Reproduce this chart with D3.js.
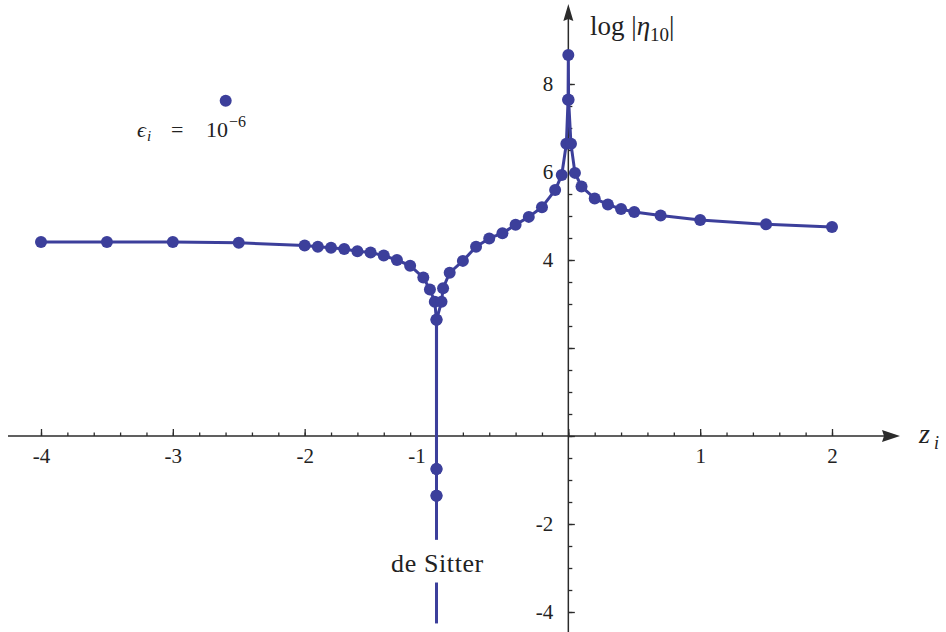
<!DOCTYPE html>
<html>
<head>
<meta charset="utf-8">
<script src="https://cdn.jsdelivr.net/npm/d3@7"></script>
<style>
  body { margin: 0; background: #fff; }
  svg { display: block; }
  svg text { font-family: "Liberation Serif", "Times New Roman", Tinos, "DejaVu Serif", "Noto Serif", serif; fill: #222; }
  .axis path { display: none; }
  .axis line { stroke: #2b2b2b; stroke-width: 1.3; }
  .axis text { font-size: 21px; }
</style>
</head>
<body>
<svg width="946" height="632"></svg>
<script>
// z_i values (in the order the curve is traced) and log|eta_10|
const zValues = [
  -4, -3.5, -3, -2.5, -2, -1.9, -1.8, -1.7, -1.6, -1.5, -1.4, -1.3, -1.2, -1.1, -1.05, -1.013,
  -1.0005, -1.00005, -1.000005, -0.999995, -0.99995, -0.9995,
  -0.962, -0.95, -0.9, -0.8, -0.7, -0.6, -0.5, -0.4, -0.3, -0.2, -0.1, -0.05, -0.015,
  -0.002, 0, 0.002,
  0.02, 0.05, 0.1, 0.2, 0.3, 0.4, 0.5, 0.7, 1, 1.5, 2
];
const logEta = [
  4.41, 4.41, 4.41, 4.39, 4.33, 4.30, 4.28, 4.25, 4.20, 4.17, 4.10, 4.00, 3.87, 3.60, 3.33, 3.05,
  2.64, -0.75, -1.36, -1.36, -0.75, 2.64,
  3.05, 3.36, 3.71, 3.98, 4.30, 4.49, 4.61, 4.80, 4.98, 5.20, 5.59, 5.93, 6.64,
  7.64, 8.66, 7.64,
  6.64, 5.98, 5.67, 5.40, 5.26, 5.16, 5.09, 5.01, 4.91, 4.81, 4.75
];

// de Sitter asymptote at z = -1 (two pieces, broken by the label)
const deSitterZ = -1;
const deSitterPieces = [[-1.36, -2.36], [-3.33, -4.26]];

const xMajor = [-4, -3, -2, -1, 0, 1, 2];
const yMajor = [-4, -2, 0, 2, 4, 6, 8];
const yLabelled = [-4, -2, 4, 6, 8];

const color = "#3c3f9b";

const svg = d3.select("svg");

const x = d3.scaleLinear().domain([-4, 2]).range([41, 832]);
const y = d3.scaleLinear().domain([-4, 8]).range([612, 84]);

const points = zValues.map((z, i) => ({ z: z, v: logEta[i] }));

// x axis line and arrow
const ax = svg.append("g").attr("stroke", "#2b2b2b").attr("fill", "#2b2b2b");
ax.append("line")
  .attr("x1", 8).attr("x2", 886)
  .attr("y1", y(0)).attr("y2", y(0))
  .attr("stroke-width", 1.5);
ax.append("path")
  .attr("d", `M900,${y(0)} L882,${y(0) - 6} L884,${y(0)} L882,${y(0) + 6} Z`)
  .attr("stroke", "none");

// y axis line and arrow
ax.append("line")
  .attr("x1", x(0)).attr("x2", x(0))
  .attr("y1", 632).attr("y2", 18)
  .attr("stroke-width", 1.5);
ax.append("path")
  .attr("d", `M${x(0)},4 L${x(0) - 5},21 L${x(0)},19 L${x(0) + 5},21 Z`)
  .attr("stroke", "none");

// x minor ticks
svg.append("g")
  .attr("class", "axis")
  .attr("transform", `translate(0,${y(0)})`)
  .call(d3.axisBottom(x).tickValues(d3.range(-20, 11).map(d => d / 5)).tickSizeInner(-3.5).tickFormat(""));

// x major ticks with labels below
const xAxis = svg.append("g")
  .attr("class", "axis")
  .attr("transform", `translate(0,${y(0)})`)
  .call(d3.axisBottom(x).tickValues(xMajor).tickSizeInner(-7).tickPadding(12)
    .tickFormat(d => d === 0 ? "" : String(d).replace("−", "-")));
xAxis.selectAll(".tick text").attr("dx", d => d === -1 ? -20 : 0);

// y minor ticks
svg.append("g")
  .attr("class", "axis")
  .attr("transform", `translate(${x(0)},0)`)
  .call(d3.axisLeft(y).tickValues(d3.range(-8, 17).map(d => d / 2)).tickSizeInner(-4).tickFormat(""));

// y major ticks with labels on the left
svg.append("g")
  .attr("class", "axis")
  .attr("transform", `translate(${x(0)},0)`)
  .call(d3.axisLeft(y).tickValues(yMajor).tickSizeInner(-6.5).tickPadding(15)
    .tickFormat(d => yLabelled.includes(d) ? String(d).replace("−", "-") : ""));

// remove the axis' own font attribute so the stylesheet font applies
svg.selectAll(".axis").attr("font-family", null).attr("font-size", null);

// de Sitter line
svg.append("g")
  .selectAll("line")
  .data(deSitterPieces)
  .enter()
  .append("line")
  .attr("x1", x(deSitterZ)).attr("x2", x(deSitterZ))
  .attr("y1", d => y(d[0])).attr("y2", d => y(d[1]))
  .attr("stroke", color)
  .attr("stroke-width", 3);

svg.append("text")
  .attr("x", x(deSitterZ) + 1)
  .attr("y", 572)
  .attr("text-anchor", "middle")
  .style("font-size", "26px")
  .style("letter-spacing", "0.6px")
  .text("de Sitter");

// curve
const line = d3.line().x(d => x(d.z)).y(d => y(d.v));
svg.append("path")
  .datum(points)
  .attr("d", line)
  .attr("fill", "none")
  .attr("stroke", color)
  .attr("stroke-width", 3)
  .attr("stroke-linejoin", "round");

svg.append("g")
  .selectAll("circle")
  .data(points)
  .enter()
  .append("circle")
  .attr("cx", d => x(d.z))
  .attr("cy", d => y(d.v))
  .attr("r", 6)
  .attr("fill", color);

// axis titles
const yTitle = svg.append("text").attr("x", 590).attr("y", 35).style("font-size", "27px");
yTitle.append("tspan").text("log |");
yTitle.append("tspan").style("font-style", "italic").text("η");
yTitle.append("tspan").attr("dy", 6).style("font-size", "19px").text("10");
yTitle.append("tspan").attr("dy", -6).text("|");

svg.append("text").attr("x", 919).attr("y", 443)
  .style("font-size", "28px").style("font-style", "italic").text("z");
svg.append("text").attr("x", 934).attr("y", 449)
  .style("font-size", "18px").style("font-style", "italic").text("i");

// legend
svg.append("circle").attr("cx", 225.7).attr("cy", 100.7).attr("r", 6).attr("fill", color);
const leg = svg.append("g").style("font-size", "22px");
leg.append("text").attr("x", 137).attr("y", 137).style("font-style", "italic").text("ϵ");
leg.append("text").attr("x", 147).attr("y", 141).style("font-size", "15px").style("font-style", "italic").text("i");
leg.append("text").attr("x", 171).attr("y", 137).text("=");
leg.append("text").attr("x", 206).attr("y", 137).text("10");
leg.append("text").attr("x", 229).attr("y", 127).style("font-size", "16px").text("−6");
</script>
</body>
</html>
